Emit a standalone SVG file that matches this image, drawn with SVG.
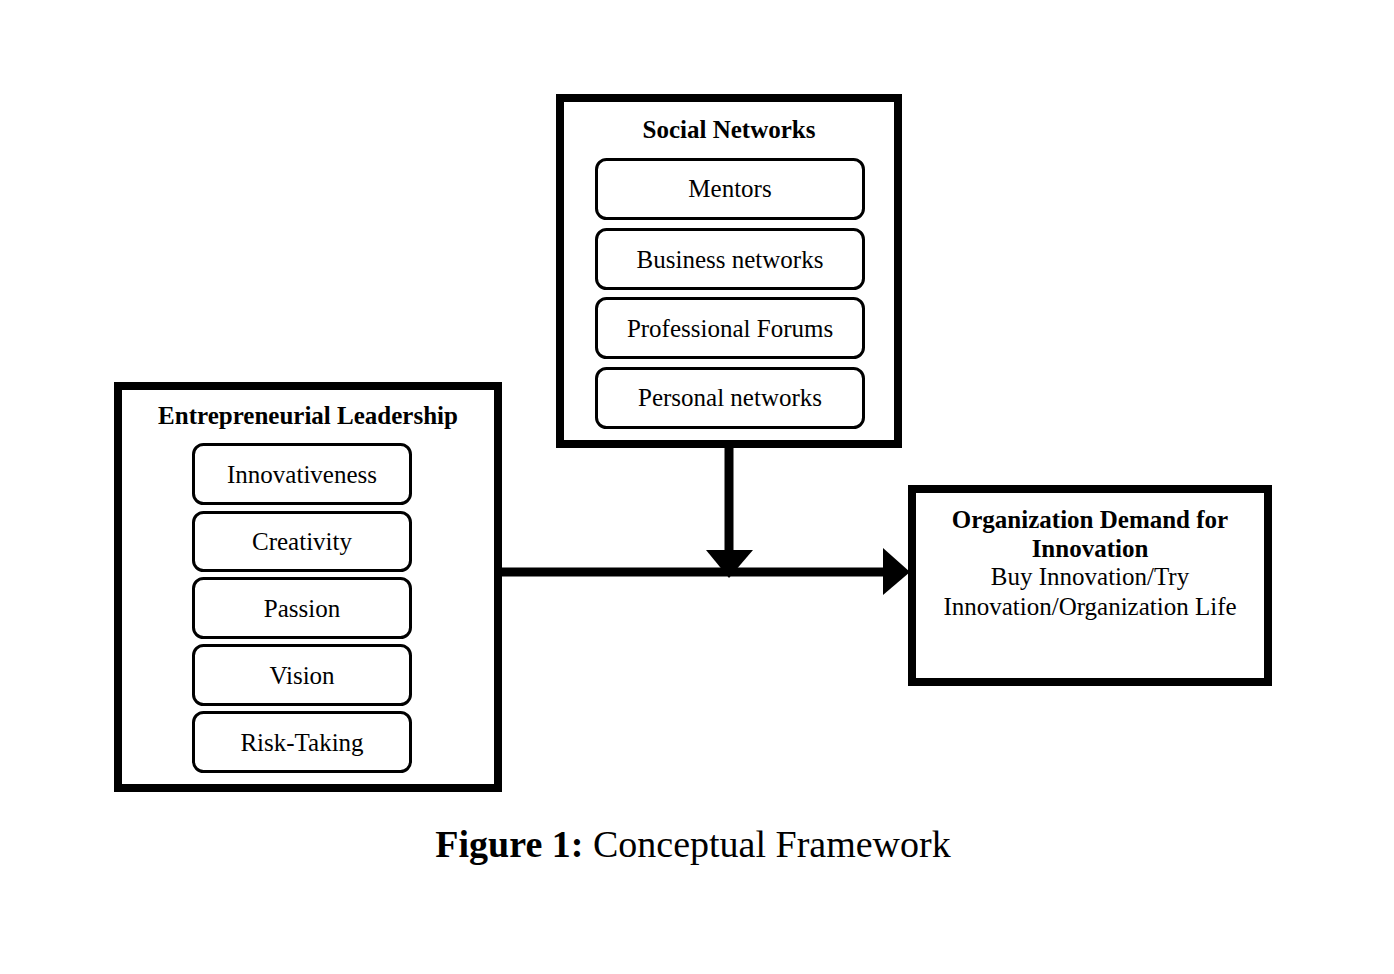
<svg xmlns="http://www.w3.org/2000/svg" width="1394" height="974" viewBox="0 0 1394 974">
<style>
.outer{fill:#fff;stroke:#000;stroke-width:8}
.item{fill:#fff;stroke:#000;stroke-width:3}
text{font-family:"Liberation Serif","Times New Roman",serif;fill:#000;text-anchor:middle}
.t{font-size:25px;font-weight:bold}
.i{font-size:25px}
.conn{stroke:#000;stroke-width:9;fill:none}
</style>
<rect width="1394" height="974" fill="#fff"/>
<g id="connectors">
<line class="conn" x1="729" y1="447" x2="729" y2="554"/>
<polygon points="706,550 753,550 729,578"/>
<line class="conn" x1="502" y1="572" x2="886" y2="572"/>
<polygon points="883,548 910,572 883,595"/>
</g>
<g id="social-networks">
<rect class="outer" x="560" y="98" width="338" height="346"/>
<text class="t" x="729" y="138">Social Networks</text>
<rect class="item" x="596.5" y="159.5" width="267" height="59" rx="10"/>
<text class="i" x="730" y="197">Mentors</text>
<rect class="item" x="596.5" y="229.5" width="267" height="59" rx="10"/>
<text class="i" x="730" y="268">Business networks</text>
<rect class="item" x="596.5" y="298.5" width="267" height="59" rx="10"/>
<text class="i" x="730" y="337">Professional Forums</text>
<rect class="item" x="596.5" y="368.5" width="267" height="59" rx="10"/>
<text class="i" x="730" y="406">Personal networks</text>
</g>
<g id="entrepreneurial-leadership">
<rect class="outer" x="118" y="386" width="380" height="402"/>
<text class="t" x="308" y="424">Entrepreneurial Leadership</text>
<rect class="item" x="193.5" y="444.5" width="217" height="59" rx="10"/>
<text class="i" x="302" y="483">Innovativeness</text>
<rect class="item" x="193.5" y="512.5" width="217" height="58" rx="10"/>
<text class="i" x="302" y="550">Creativity</text>
<rect class="item" x="193.5" y="578.5" width="217" height="59" rx="10"/>
<text class="i" x="302" y="617">Passion</text>
<rect class="item" x="193.5" y="645.5" width="217" height="59" rx="10"/>
<text class="i" x="302" y="684">Vision</text>
<rect class="item" x="193.5" y="712.5" width="217" height="59" rx="10"/>
<text class="i" x="302" y="751">Risk-Taking</text>
</g>
<g id="organization-demand">
<rect class="outer" x="912" y="489" width="356" height="193"/>
<text class="t" x="1090" y="528">Organization Demand for</text>
<text class="t" x="1090" y="557">Innovation</text>
<text class="i" x="1090" y="585">Buy Innovation/Try</text>
<text class="i" x="1090" y="615">Innovation/Organization Life</text>
</g>
<g id="caption">
<text x="693" y="857" style="font-size:38px"><tspan font-weight="bold">Figure 1:</tspan> Conceptual Framework</text>
</g>
</svg>
